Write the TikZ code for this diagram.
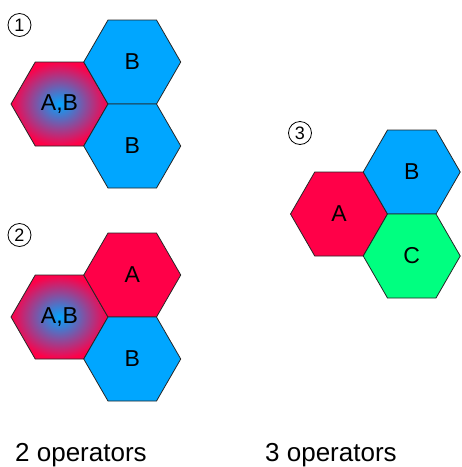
\documentclass[tikz,border=0pt]{standalone}
\usepackage{fontspec}
\setmainfont{Liberation Sans}
\usetikzlibrary{shapes.geometric}
\definecolor{hred}{RGB}{255,0,72}
\definecolor{hblue}{RGB}{0,166,255}
\definecolor{hgreen}{RGB}{0,255,128}
\tikzset{
  hexa/.style={regular polygon, regular polygon sides=6,
    minimum size=97pt, inner sep=0pt, outer sep=0pt, draw=black!85, line width=0.8pt,
    font=\fontsize{23}{23}\selectfont},
  redhex/.style={hexa, fill=hred},
  bluehex/.style={hexa, fill=hblue},
  greenhex/.style={hexa, fill=hgreen},
  mixhex/.style={hexa, inner color=hblue, outer color=hred},
  num/.style={circle, draw=black, line width=0.8pt, minimum size=23pt, inner sep=0pt,
    font=\fontsize{18}{18}\selectfont},
  caption/.style={anchor=base west, inner sep=0pt, font=\fontsize{26}{26}\selectfont}
}
\begin{document}
\begin{tikzpicture}[x=1pt,y=-1pt]
\useasboundingbox (0,0) rectangle (462,467);
% panel 1
\node[num] (n1) at (19.5,25) {1};
\node[mixhex] (ab1) at (59.5,104) {A,B};
\node[bluehex] (b1t) at (132.25,62) {B};
\node[bluehex] (b1b) at (132.25,146) {B};
% panel 2
\node[num] (n2) at (19.5,235) {2};
\node[mixhex] (ab2) at (59.5,317) {A,B};
\node[redhex] (a2) at (132.25,275) {A};
\node[bluehex] (b2) at (132.25,359) {B};
% panel 3
\node[num] (n3) at (300,133) {3};
\node[redhex] (a3) at (339,214) {A};
\node[bluehex] (b3) at (411.75,172) {B};
\node[greenhex] (c3) at (411.75,256) {C};
% captions
\node[caption] (cap2) at (15,461) {2 operators};
\node[caption] (cap3) at (265,461) {3 operators};
\end{tikzpicture}
\end{document}
